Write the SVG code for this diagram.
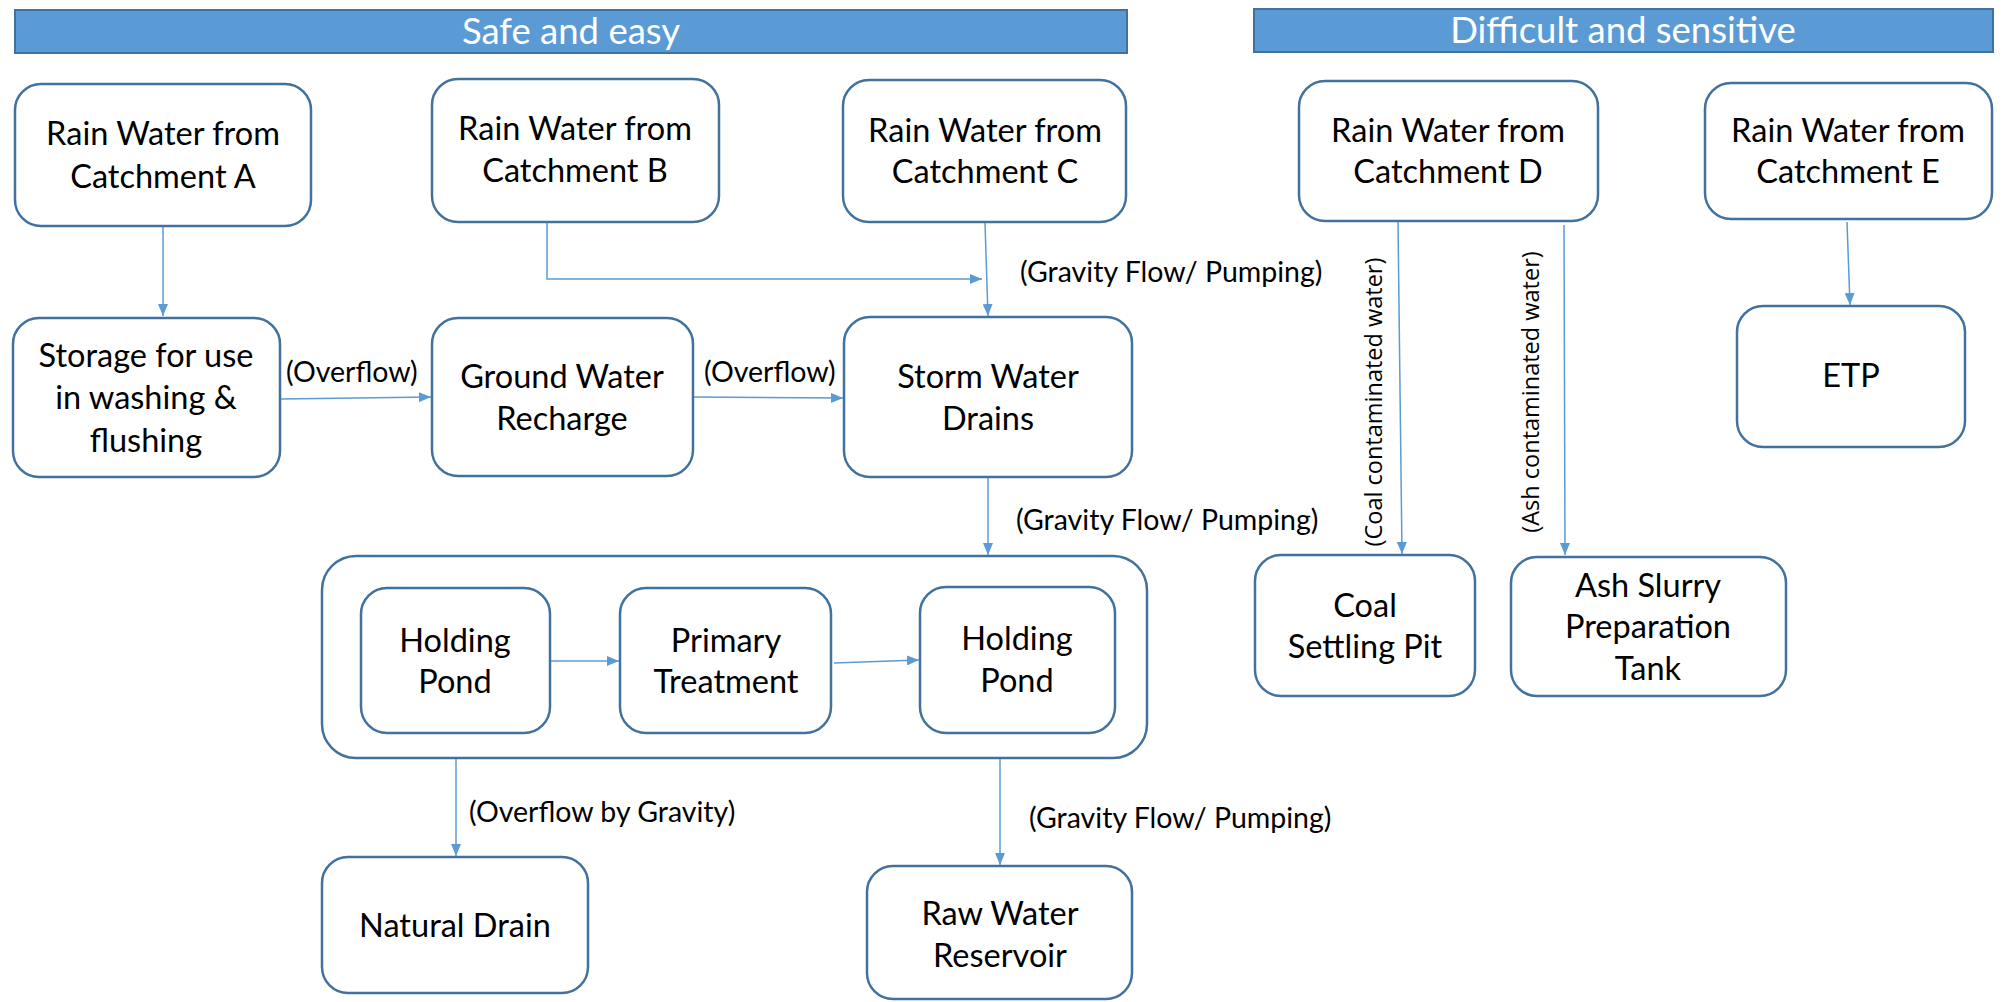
<svg xmlns="http://www.w3.org/2000/svg" width="2004" height="1002" viewBox="0 0 2004 1002">
<style>
.node{fill:#fff;stroke:#41719C;stroke-width:2.5}
.hdr{fill:#5B9BD5;stroke:#41719C;stroke-width:2}
.t{font-family:Lato,"Liberation Sans",sans-serif;font-size:32.5px;fill:#000;text-anchor:middle}
.h{font-family:Lato,"Liberation Sans",sans-serif;font-size:36.5px;fill:#fff;text-anchor:middle}
.l{font-family:Lato,"Liberation Sans",sans-serif;font-size:28.5px;fill:#000}
.v{font-family:"Open Sans","DejaVu Sans",sans-serif;font-size:23.5px;fill:#000;text-anchor:middle}
.c{fill:none;stroke:#5B9BD5;stroke-width:1.5}
</style>
<defs>
<marker id="ah" viewBox="0 0 12 10" refX="12" refY="5" markerWidth="12" markerHeight="10" markerUnits="userSpaceOnUse" orient="auto">
<path d="M0,0 L12,5 L0,10 z" fill="#5B9BD5"/>
</marker>
</defs>
<g id="header-safe"><rect class="hdr" x="15" y="10" width="1112" height="43"/><text class="h" x="571" y="44">Safe and easy</text></g>
<g id="header-difficult"><rect class="hdr" x="1254" y="9" width="739" height="43"/><text class="h" x="1623" y="43">Difficult and sensitive</text></g>

<g id="catchA"><rect class="node" x="15" y="84" width="296" height="142" rx="26"/><text class="t" x="163" y="145">Rain Water from</text><text class="t" x="163" y="188">Catchment A</text></g>
<g id="catchB"><rect class="node" x="432" y="79" width="287" height="143" rx="26"/><text class="t" x="575" y="140">Rain Water from</text><text class="t" x="575" y="182">Catchment B</text></g>
<g id="catchC"><rect class="node" x="843" y="80" width="283" height="142" rx="26"/><text class="t" x="985" y="142">Rain Water from</text><text class="t" x="985" y="183">Catchment C</text></g>
<g id="catchD"><rect class="node" x="1299" y="81" width="299" height="140" rx="26"/><text class="t" x="1448" y="142">Rain Water from</text><text class="t" x="1448" y="183">Catchment D</text></g>
<g id="catchE"><rect class="node" x="1705" y="83" width="287" height="136" rx="26"/><text class="t" x="1848" y="142">Rain Water from</text><text class="t" x="1848" y="183">Catchment E</text></g>
<g id="etp"><rect class="node" x="1737" y="306" width="228" height="141" rx="26"/><text class="t" x="1851" y="387">ETP</text></g>

<g id="storage"><rect class="node" x="13" y="318" width="267" height="159" rx="26"/><text class="t" x="146" y="367">Storage for use</text><text class="t" x="146" y="409">in washing &amp;</text><text class="t" x="146" y="452">flushing</text></g>
<g id="groundwater"><rect class="node" x="432" y="318" width="261" height="158" rx="26"/><text class="t" x="562" y="388">Ground Water</text><text class="t" x="562" y="430">Recharge</text></g>
<g id="stormwater"><rect class="node" x="844" y="317" width="288" height="160" rx="26"/><text class="t" x="988" y="388">Storm Water</text><text class="t" x="988" y="430">Drains</text></g>

<g id="treatment"><rect class="node" x="322" y="556" width="825" height="202" rx="34"/></g>
<g id="holding1"><rect class="node" x="361" y="588" width="189" height="145" rx="26"/><text class="t" x="455" y="652">Holding</text><text class="t" x="455" y="693">Pond</text></g>
<g id="primary"><rect class="node" x="620" y="588" width="211" height="145" rx="26"/><text class="t" x="726" y="652">Primary</text><text class="t" x="726" y="693">Treatment</text></g>
<g id="holding2"><rect class="node" x="920" y="587" width="195" height="146" rx="26"/><text class="t" x="1017" y="650">Holding</text><text class="t" x="1017" y="692">Pond</text></g>

<g id="naturaldrain"><rect class="node" x="322" y="857" width="266" height="136" rx="26"/><text class="t" x="455" y="937">Natural Drain</text></g>
<g id="rawwater"><rect class="node" x="867" y="866" width="265" height="133" rx="26"/><text class="t" x="1000" y="925">Raw Water</text><text class="t" x="1000" y="967">Reservoir</text></g>
<g id="coalpit"><rect class="node" x="1255" y="555" width="220" height="141" rx="26"/><text class="t" x="1365" y="617">Coal</text><text class="t" x="1365" y="658">Settling Pit</text></g>
<g id="ashtank"><rect class="node" x="1511" y="557" width="275" height="139" rx="26"/><text class="t" x="1648" y="597">Ash Slurry</text><text class="t" x="1648" y="638">Preparation</text><text class="t" x="1648" y="680">Tank</text></g>

<g id="connectors">
<line class="c" x1="163" y1="227" x2="163" y2="316" marker-end="url(#ah)"/>
<polyline class="c" points="547,223 547,279 982,279" marker-end="url(#ah)"/>
<line class="c" x1="985" y1="223" x2="988" y2="316" marker-end="url(#ah)"/>
<line class="c" x1="281" y1="399" x2="431" y2="397" marker-end="url(#ah)"/>
<line class="c" x1="694" y1="397" x2="843" y2="398" marker-end="url(#ah)"/>
<line class="c" x1="988" y1="478" x2="988" y2="555" marker-end="url(#ah)"/>
<line class="c" x1="551" y1="661" x2="619" y2="661" marker-end="url(#ah)"/>
<line class="c" x1="834" y1="663" x2="919" y2="660" marker-end="url(#ah)"/>
<line class="c" x1="456" y1="759" x2="456" y2="856" marker-end="url(#ah)"/>
<line class="c" x1="1000" y1="759" x2="1000" y2="865" marker-end="url(#ah)"/>
<line class="c" x1="1398" y1="222" x2="1402" y2="554" marker-end="url(#ah)"/>
<line class="c" x1="1564" y1="225" x2="1565" y2="555" marker-end="url(#ah)"/>
<line class="c" x1="1847" y1="222" x2="1850" y2="305" marker-end="url(#ah)"/>
<text class="l" x="1020" y="282">(Gravity Flow/ Pumping)</text>
<text class="l" x="286" y="382">(Overflow)</text>
<text class="l" x="704" y="382">(Overflow)</text>
<text class="l" x="1016" y="530">(Gravity Flow/ Pumping)</text>
<text class="l" x="469" y="822">(Overflow by Gravity)</text>
<text class="l" x="1029" y="828">(Gravity Flow/ Pumping)</text>
<text class="v" x="1382" y="402" transform="rotate(-90 1382 402)">(Coal contaminated water)</text>
<text class="v" x="1539" y="392" transform="rotate(-90 1539 392)">(Ash contaminated water)</text>
</g>
</svg>
